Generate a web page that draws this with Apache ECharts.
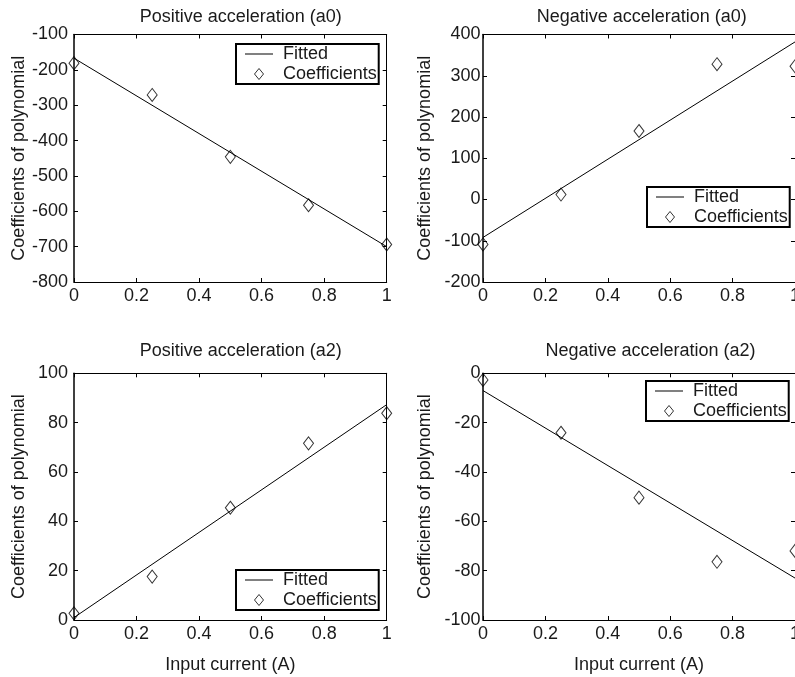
<!DOCTYPE html>
<html>
<head>
<meta charset="utf-8">
<script src="https://cdn.jsdelivr.net/npm/echarts@6/dist/echarts.min.js"></script>
<style>
  html, body { margin: 0; padding: 0; background: #fff; }
  #chart { width: 795px; height: 677px; }
</style>
</head>
<body>
<div id="chart"></div>
<script>
// ----- data -----
var inputCurrent = [0, 0.25, 0.5, 0.75, 1];
var fitEnds = [0, 1];
var xRange = [0, 1, 0.2];

var posA0Coef = [-181, -271, -446, -583, -694];
var posA0Fit = [-167, -700];
var posA0Range = [-800, -100, 100];

var negA0Coef = [-109, 12, 166, 328, 323];
var negA0Fit = [-92, 382];
var negA0Range = [-200, 400, 100];

var posA2Coef = [2.7, 17.6, 45.5, 71.6, 83.8];
var posA2Fit = [1, 87.3];
var posA2Range = [0, 100, 20];

var negA2Coef = [-2.7, -24.1, -50.4, -76.4, -72];
var negA2Fit = [-7, -83];
var negA2Range = [-100, 0, 20];

var titles = ['Positive acceleration (a0)', 'Negative acceleration (a0)',
              'Positive acceleration (a2)', 'Negative acceleration (a2)'];
var yName = 'Coefficients of polynomial';
var xName = 'Input current (A)';

// ----- layout -----
var font = 'Liberation Sans, Arial, Helvetica, sans-serif';
var ink = '#1a1a1a';
var fs = 18;
var grids = [
  {left: 74, top: 34.5, width: 312.7, height: 247.5},
  {left: 483, top: 34.5, width: 312, height: 247.5},
  {left: 74, top: 373.3, width: 312.7, height: 246.7},
  {left: 483, top: 373.3, width: 312, height: 246.7}
].map(function (g) { g.outerBoundsMode = 'none'; return g; });
var titlePos = [[240.8, 8.5], [641.7, 8.5], [240.8, 342.5], [650.5, 342.5]];
var legendPos = [[236, 44], [647, 187], [236, 570], [646, 381]];
var nameGapY = [46, 49, 46, 49];
var marginY = [6, 2.5, 6, 2.5];

var panels = [
  {coef: posA0Coef, fit: posA0Fit, range: posA0Range},
  {coef: negA0Coef, fit: negA0Fit, range: negA0Range},
  {coef: posA2Coef, fit: posA2Fit, range: posA2Range},
  {coef: negA2Coef, fit: negA2Fit, range: negA2Range}
];

var lineIcon = 'path://M0,0L28,0L28,1L0,1Z';
var diamondIcon = 'path://M4.5,0L9,5.5L4.5,11L0,5.5Z';

var chart = echarts.init(document.getElementById('chart'));

var xAxes = [], yAxes = [], series = [], legends = [], titleList = [];

panels.forEach(function (p, g) {
  var axisLine = {onZero: false, lineStyle: {color: '#000', width: 1}};
  var axisTick = {inside: true, length: 4, lineStyle: {color: '#000', width: 1}};
  var label = {color: ink, fontSize: fs, fontFamily: font};

  xAxes.push({
    type: 'value', gridIndex: g, position: 'bottom',
    min: xRange[0], max: xRange[1], interval: xRange[2],
    splitLine: {show: false}, axisLine: axisLine, axisTick: axisTick,
    axisLabel: Object.assign({margin: 5}, label),
    name: g >= 2 ? xName : '', nameLocation: 'middle', nameGap: 36,
    nameTextStyle: label
  });
  xAxes.push({
    type: 'value', gridIndex: g, position: 'top',
    min: xRange[0], max: xRange[1], interval: xRange[2],
    splitLine: {show: false}, axisLine: axisLine, axisTick: axisTick,
    axisLabel: {show: false}
  });
  yAxes.push({
    type: 'value', gridIndex: g, position: 'left',
    min: p.range[0], max: p.range[1], interval: p.range[2],
    splitLine: {show: false},
    axisLine: {onZero: false, lineStyle: {color: '#000', width: 1.5}},
    axisTick: axisTick,
    axisLabel: Object.assign({margin: marginY[g]}, label),
    name: yName, nameLocation: 'middle', nameGap: nameGapY[g],
    nameTextStyle: label
  });
  yAxes.push({
    type: 'value', gridIndex: g, position: 'right',
    min: p.range[0], max: p.range[1], interval: p.range[2],
    splitLine: {show: false}, axisLine: axisLine, axisTick: axisTick,
    axisLabel: {show: false}
  });

  series.push({
    type: 'line', name: 'Fitted',
    xAxisIndex: 2 * g, yAxisIndex: 2 * g,
    data: fitEnds.map(function (x, i) { return [x, p.fit[i]]; }),
    symbol: 'none', clip: false, silent: true,
    lineStyle: {color: '#000', width: 1},
    itemStyle: {color: '#000'}
  });
  series.push({
    type: 'scatter', name: 'Coefficients',
    xAxisIndex: 2 * g, yAxisIndex: 2 * g,
    data: inputCurrent.map(function (x, i) { return [x, p.coef[i]]; }),
    symbol: 'diamond', symbolSize: [10, 13], clip: false, silent: true,
    itemStyle: {color: 'rgba(0,0,0,0)', borderColor: '#000', borderWidth: 1}
  });

  titleList.push({
    text: titles[g], left: titlePos[g][0], top: titlePos[g][1],
    textAlign: 'center', padding: 0,
    textStyle: {color: ink, fontSize: fs, fontWeight: 'normal', fontFamily: font}
  });

  legends.push({
    orient: 'vertical', left: legendPos[g][0], top: legendPos[g][1],
    selectedMode: false,
    itemWidth: 28, itemHeight: 11, itemGap: 2,
    padding: [1, 2, 1, 9],
    borderColor: '#000', borderWidth: 2, backgroundColor: '#fff',
    textStyle: {color: ink, fontSize: fs, fontFamily: font, padding: [0, 0, 0, 5]},
    data: [
      {name: 'Fitted', icon: lineIcon, itemStyle: {color: '#000', borderWidth: 0}},
      {name: 'Coefficients', icon: diamondIcon,
       itemStyle: {color: '#fff', borderColor: '#000', borderWidth: 1}}
    ]
  });
});

chart.setOption({
  animation: false,
  backgroundColor: '#fff',
  title: titleList,
  grid: grids,
  xAxis: xAxes,
  yAxis: yAxes,
  legend: legends,
  series: series
});
</script>
</body>
</html>
